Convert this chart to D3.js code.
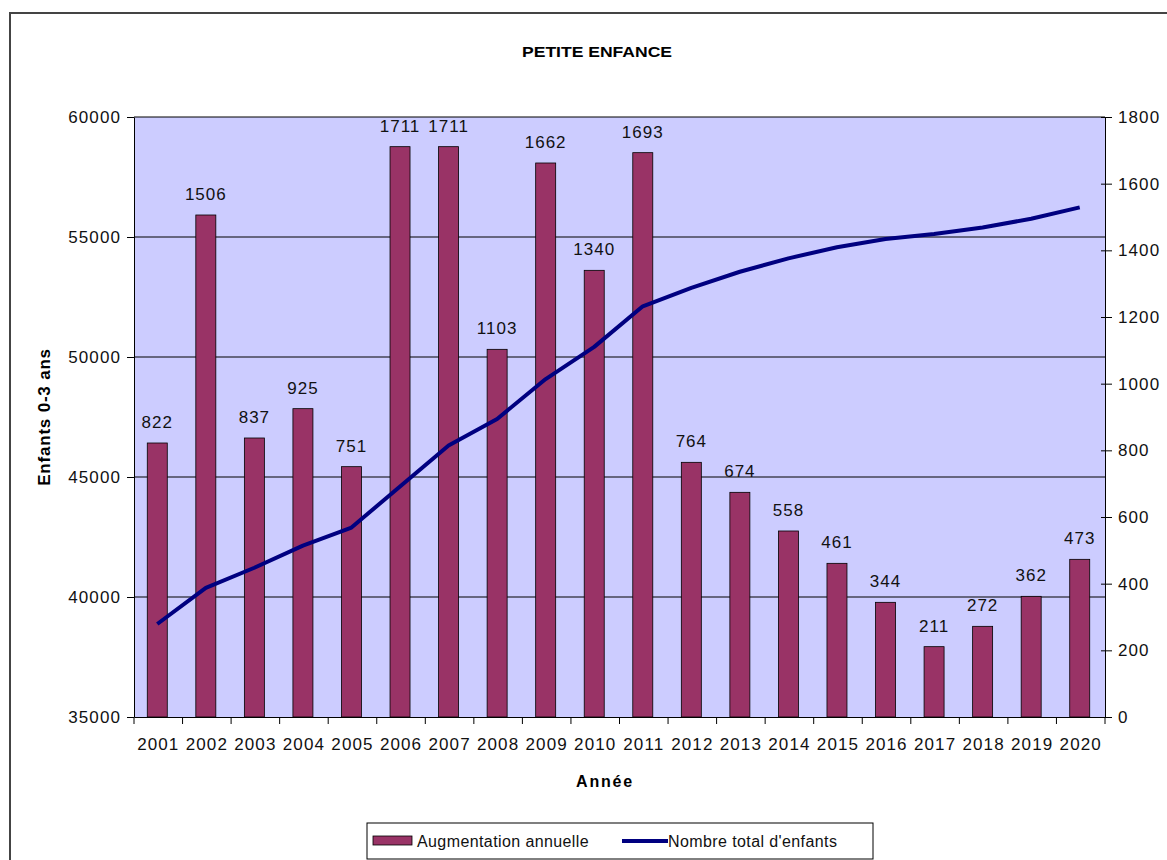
<!DOCTYPE html>
<html>
<head>
<meta charset="utf-8">
<script src="https://cdn.jsdelivr.net/npm/d3@7"></script>
<style>
  body { margin: 0; background: #fff; }
  svg text { font-family: "Liberation Sans", Arial, sans-serif; }
</style>
</head>
<body>
<div id="svg-container"></div>
<script>
// data
const years = ["2001", "2002", "2003", "2004", "2005", "2006", "2007", "2008", "2009", "2010",
  "2011", "2012", "2013", "2014", "2015", "2016", "2017", "2018", "2019", "2020"];
const augmentation = [822, 1506, 837, 925, 751, 1711, 1711, 1103, 1662, 1340,
  1693, 764, 674, 558, 461, 344, 211, 272, 362, 473];
const totalEnfants = [38875, 40381, 41218, 42143, 42894, 44605, 46316, 47419, 49081, 50421,
  52114, 52878, 53552, 54110, 54571, 54915, 55126, 55398, 55760, 56233];
const leftTicks = [35000, 40000, 45000, 50000, 55000, 60000];
const rightTicks = [0, 200, 400, 600, 800, 1000, 1200, 1400, 1600, 1800];

const width = 1167;
const height = 860;
const margin = { top: 117, right: 62, bottom: 143, left: 134 };

const svg = d3.select("#svg-container").append("svg")
  .attr("width", width).attr("height", height);

// cadre extérieur
svg.append("rect")
  .attr("x", 10).attr("y", 13)
  .attr("width", width).attr("height", height)
  .attr("fill", "#fff").attr("stroke", "#444").attr("stroke-width", 2);

// scales
const x = d3.scaleBand().domain(years)
  .range([margin.left, width - margin.right]);
const yLeft = d3.scaleLinear().domain([35000, 60000])
  .range([height - margin.bottom, margin.top]);
const yRight = d3.scaleLinear().domain([0, 1800])
  .range([height - margin.bottom, margin.top]);

// fond du graphique
svg.append("rect")
  .attr("x", margin.left).attr("y", margin.top)
  .attr("width", width - margin.left - margin.right)
  .attr("height", height - margin.top - margin.bottom)
  .attr("fill", "#ccccff");

// grille
svg.append("g")
  .selectAll("line")
  .data(leftTicks.slice(1))
  .enter().append("line")
  .attr("x1", margin.left).attr("x2", width - margin.right)
  .attr("y1", (d) => yLeft(d)).attr("y2", (d) => yLeft(d))
  .attr("stroke", "#000").attr("stroke-width", 1);

// barres
const barW = 20;
svg.append("g")
  .selectAll("rect")
  .data(augmentation)
  .enter().append("rect")
  .attr("x", (d, i) => x(years[i]) + x.bandwidth() / 2 - barW / 2 - 1)
  .attr("y", (d) => yRight(d))
  .attr("width", barW)
  .attr("height", (d) => yRight(0) - yRight(d))
  .attr("fill", "#993366")
  .attr("stroke", "#000").attr("stroke-width", 0.8);

// étiquettes
svg.append("g")
  .selectAll("text")
  .data(augmentation)
  .enter().append("text")
  .attr("x", (d, i) => x(years[i]) + x.bandwidth() / 2 - 1)
  .attr("y", (d) => yRight(d) - 15)
  .attr("text-anchor", "middle")
  .style("font-size", "17px")
  .style("letter-spacing", "1px")
  .attr("fill", "#111")
  .text((d) => d);

// courbe
const line = d3.line()
  .x((d, i) => x(years[i]) + x.bandwidth() / 2 - 1)
  .y((d) => yLeft(d));
svg.append("path")
  .datum(totalEnfants)
  .attr("d", line)
  .attr("fill", "none")
  .attr("stroke", "#000080")
  .attr("stroke-width", 4)
  .attr("stroke-linejoin", "round");

// axes
const axisFont = (g) => {
  g.select(".domain").attr("stroke", "#000");
  g.selectAll(".tick line").attr("stroke", "#000");
  g.selectAll("text")
    .style("font-family", "'Liberation Sans', Arial, sans-serif")
    .style("font-size", "17px")
    .style("letter-spacing", "1.1px")
    .attr("fill", "#111");
};

svg.append("g")
  .attr("transform", `translate(${margin.left},0)`)
  .call(d3.axisLeft(yLeft).tickValues(leftTicks).tickFormat(d3.format("d"))
    .tickSize(7).tickPadding(6).tickSizeOuter(0))
  .call(axisFont);

svg.append("g")
  .attr("transform", `translate(${width - margin.right},0)`)
  .call(d3.axisRight(yRight).tickValues(rightTicks).tickFormat(d3.format("d"))
    .tickSize(7).tickPadding(6).tickSizeOuter(0))
  .call(axisFont)
  .call((g) => g.selectAll(".tick line").attr("x1", -4));

const xAxis = svg.append("g")
  .attr("transform", `translate(0,${height - margin.bottom})`)
  .call(d3.axisBottom(x).tickSize(0).tickPadding(21).tickSizeOuter(0))
  .call(axisFont);

// traits de graduation aux limites des catégories
xAxis.append("g")
  .selectAll("line")
  .data(years.concat(["end"]))
  .enter().append("line")
  .attr("x1", (d, i) => margin.left + i * x.step())
  .attr("x2", (d, i) => margin.left + i * x.step())
  .attr("y1", 0).attr("y2", 7)
  .attr("stroke", "#000");

// titres
svg.append("text")
  .attr("x", 597).attr("y", 57)
  .attr("text-anchor", "middle")
  .style("font-size", "14px")
  .style("font-weight", "bold")
  .attr("textLength", 150)
  .attr("lengthAdjust", "spacingAndGlyphs")
  .text("PETITE ENFANCE");

svg.append("text")
  .attr("transform", "translate(50,417) rotate(-90)")
  .attr("text-anchor", "middle")
  .style("font-size", "17px")
  .style("font-weight", "bold")
  .style("letter-spacing", "0.8px")
  .text("Enfants 0-3 ans");

svg.append("text")
  .attr("x", 605).attr("y", 787)
  .attr("text-anchor", "middle")
  .style("font-size", "16px")
  .style("font-weight", "bold")
  .style("letter-spacing", "1.8px")
  .text("Année");

// légende
const legend = svg.append("g");
legend.append("rect")
  .attr("x", 367).attr("y", 823)
  .attr("width", 506).attr("height", 36)
  .attr("fill", "#fff").attr("stroke", "#000").attr("stroke-width", 1);
legend.append("rect")
  .attr("x", 373).attr("y", 836)
  .attr("width", 39).attr("height", 9)
  .attr("fill", "#993366").attr("stroke", "#000").attr("stroke-width", 0.8);
legend.append("text")
  .attr("x", 417).attr("y", 847)
  .style("font-size", "16px")
  .style("letter-spacing", "0.4px")
  .attr("fill", "#111")
  .text("Augmentation annuelle");
legend.append("line")
  .attr("x1", 622).attr("x2", 668)
  .attr("y1", 841).attr("y2", 841)
  .attr("stroke", "#000080").attr("stroke-width", 4);
legend.append("text")
  .attr("x", 668).attr("y", 847)
  .style("font-size", "16px")
  .style("letter-spacing", "0.4px")
  .attr("fill", "#111")
  .text("Nombre total d'enfants");
</script>
</body>
</html>
